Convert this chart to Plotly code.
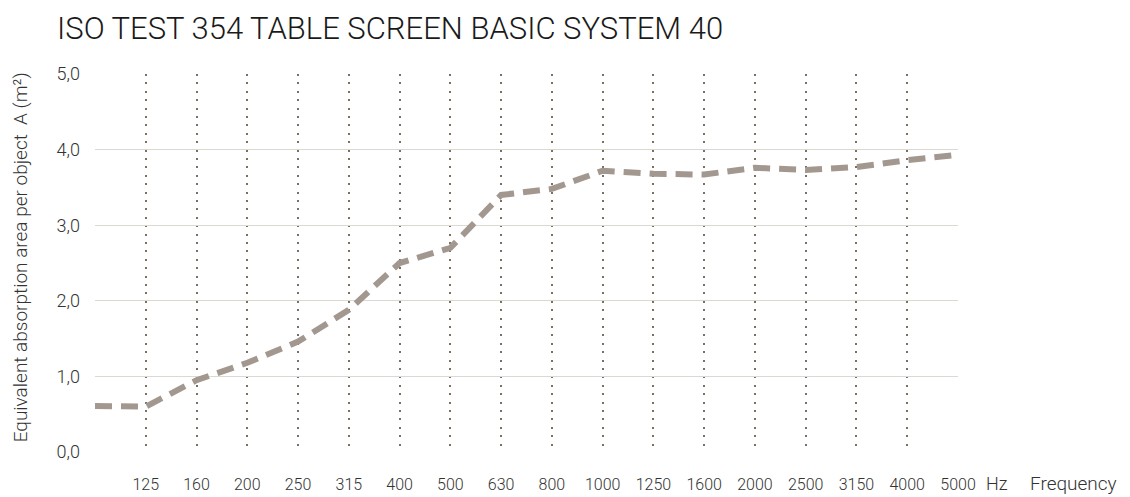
import plotly.graph_objects as go

freq_labels = ["100", "125", "160", "200", "250", "315", "400", "500", "630", "800",
               "1000", "1250", "1600", "2000", "2500", "3150", "4000", "5000"]
absorption = [0.61, 0.60, 0.95, 1.18, 1.46, 1.88, 2.50, 2.70, 3.40, 3.48,
              3.72, 3.68, 3.67, 3.76, 3.73, 3.77, 3.86, 3.93]
y_ticks = [0, 1, 2, 3, 4, 5]

title_text = "ISO TEST 354 TABLE SCREEN BASIC SYSTEM 40"
y_title = "Equivalent absorption area per object  A (m²)"

FONT = "Roboto"
W = 300
OFF = 8  # page body margin

fig = go.Figure()
fig.add_trace(go.Scatter(
    x=freq_labels, y=absorption, mode="lines",
    line=dict(color="#a39890", width=6, dash="17px,9px"),
    cliponaxis=False, hoverinfo="skip", showlegend=False,
))

fig.update_layout(
    width=1130 - OFF, height=497 - OFF,
    margin=dict(l=95 - OFF, r=172, t=74 - OFF, b=45, autoexpand=False),
    paper_bgcolor="white", plot_bgcolor="white",
    separators=",.",
    font=dict(family=FONT, color="#333333", size=15, weight=W),
    title=dict(text=title_text, x=(57 - OFF)/(1130 - OFF), xanchor="left", xref="container",
               y=1-(28 - OFF)/(497 - OFF), yanchor="middle", yref="container",
               font=dict(family=FONT, size=31, color="#1a1a1a", weight=W)),
    xaxis=dict(type="category", categoryorder="array", categoryarray=freq_labels,
               range=[0, len(freq_labels)-1],
               tickvals=freq_labels[1:], ticktext=freq_labels[1:],
               showgrid=True, gridcolor="#7d6e60", gridwidth=2, griddash="2px,6.4px",
               zeroline=False, showline=False, ticks="",
               ticklabelstandoff=21, tickfont=dict(size=16, color="#333333", weight=W)),
    yaxis=dict(range=[0, 5], tickvals=y_ticks, tickformat=".1f",
               showgrid=True, gridcolor="#dcd8d2", gridwidth=1,
               zeroline=False, showline=False, ticks="",
               ticklabelstandoff=14, tickfont=dict(size=18, color="#333333", weight=W)),
)

fig.add_annotation(text=y_title, textangle=-90, xref="paper", yref="paper",
                   x=(20-95)/863, y=0.515, xanchor="center", yanchor="middle",
                   showarrow=False, font=dict(size=19, color="#333333", weight=W))
fig.add_annotation(text="Hz", xref="paper", yref="paper",
                   x=(997-95)/863, y=-31/378, xanchor="center", yanchor="middle",
                   showarrow=False, font=dict(size=18, color="#333333", weight=W))
fig.add_annotation(text="Frequency", xref="paper", yref="paper",
                   x=(1073-95)/863, y=-31/378, xanchor="center", yanchor="middle",
                   showarrow=False, font=dict(size=19, color="#333333", weight=W))

fig.write_html("out.html")
